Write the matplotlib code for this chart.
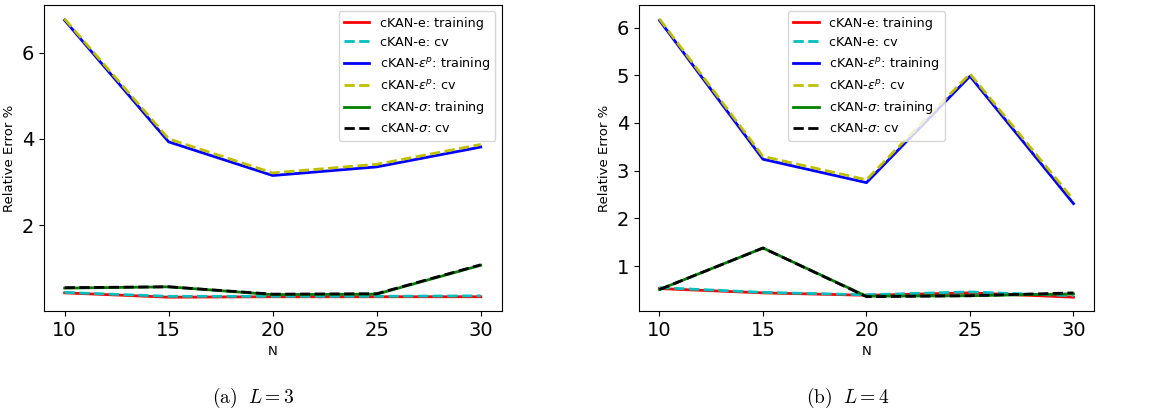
import numpy as np
import matplotlib
matplotlib.use("Agg")
import matplotlib.pyplot as plt

N = [10, 15, 20, 25, 30]

# L = 3
e_train_3 = [0.43, 0.33, 0.34, 0.34, 0.34]
e_cv_3 = [0.44, 0.35, 0.35, 0.35, 0.36]
ep_train_3 = [6.75, 3.93, 3.15, 3.35, 3.81]
ep_cv_3 = [6.78, 4.00, 3.21, 3.41, 3.87]
s_train_3 = [0.54, 0.57, 0.39, 0.40, 1.07]
s_cv_3 = [0.55, 0.57, 0.40, 0.41, 1.08]

# L = 4
e_train_4 = [0.53, 0.44, 0.39, 0.44, 0.35]
e_cv_4 = [0.55, 0.45, 0.40, 0.46, 0.38]
ep_train_4 = [6.15, 3.24, 2.75, 4.98, 2.31]
ep_cv_4 = [6.18, 3.30, 2.81, 5.03, 2.39]
s_train_4 = [0.51, 1.38, 0.37, 0.38, 0.42]
s_cv_4 = [0.51, 1.38, 0.36, 0.38, 0.44]

fig = plt.figure(figsize=(11.53, 4.17), dpi=100)
ax1 = fig.add_axes([0.038, 0.254, 0.397, 0.734])
ax2 = fig.add_axes([0.554, 0.254, 0.395, 0.734])


def draw(ax, et, ec, pt, pc, st, sc, loc):
    ax.plot(N, et, 'r-', lw=2, label='cKAN-e: training')
    ax.plot(N, ec, 'c--', lw=2, label='cKAN-e: cv')
    ax.plot(N, pt, 'b-', lw=2, label=r'cKAN-$\varepsilon^p$: training')
    ax.plot(N, pc, 'y--', lw=2, label=r'cKAN-$\varepsilon^p$: cv')
    ax.plot(N, st, 'g-', lw=2, label=r'cKAN-$\sigma$: training')
    ax.plot(N, sc, 'k--', lw=2, label=r'cKAN-$\sigma$: cv')
    ax.set_xticks(N)
    ax.tick_params(labelsize=14)
    ax.set_xlabel('N', fontsize=9.5)
    ax.set_ylabel('Relative Error %', fontsize=9.5)
    ax.legend(loc=loc, fontsize=9.2)


draw(ax1, e_train_3, e_cv_3, ep_train_3, ep_cv_3, s_train_3, s_cv_3, 'upper right')
draw(ax2, e_train_4, e_cv_4, ep_train_4, ep_cv_4, s_train_4, s_cv_4, 'upper center')

# captions below the panels, LaTeX-like
fig.text(0.22, 0.045, r'$\mathrm{(a)}\ \ L=3$', ha='center', va='center',
         fontsize=14, math_fontfamily='cm')
fig.text(0.735, 0.045, r'$\mathrm{(b)}\ \ L=4$', ha='center', va='center',
         fontsize=14, math_fontfamily='cm')

fig.savefig('out.png', dpi=100)
